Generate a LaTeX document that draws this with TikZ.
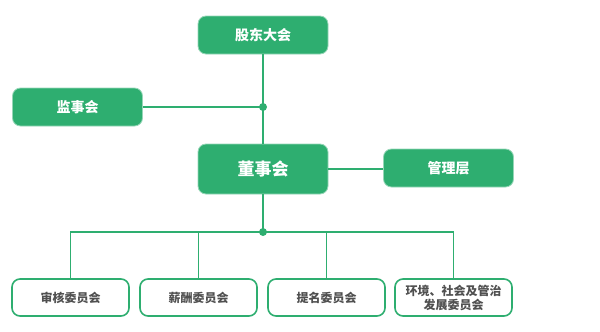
\documentclass[tikz,border=0pt]{standalone}
\usepackage{fontspec}
\setmainfont{Noto Sans CJK SC}
\usetikzlibrary{calc}
\definecolor{govgreen}{RGB}{46,174,112}
\definecolor{govgray}{RGB}{80,80,80}

\begin{document}
\begin{tikzpicture}[x=1pt, y=-1pt,
    topbox/.style={fill=govgreen, draw=govgreen!50!white, line width=0.8pt, rounded corners=8pt,
        text=white, font=\bfseries\fontsize{14}{16}\selectfont,
        minimum width=130pt, minimum height=38pt, inner sep=0pt},
    combox/.style={fill=white, draw=govgreen, line width=1.6pt, rounded corners=8pt,
        text=govgray, font=\bfseries\fontsize{12}{14}\selectfont, align=center,
        minimum width=117pt, minimum height=37pt, inner sep=0pt},
    link/.style={draw=govgreen, line width=1.6pt}]
    \useasboundingbox (0,0) rectangle (600,332);

    \node[topbox] (gudong) at (263,35) {股东大会};
    \node[topbox] (jianshi) at (77.5,107) {监事会};
    \node[topbox, minimum height=50pt, font=\bfseries\fontsize{17}{19}\selectfont] (dongshi) at (263,169) {董事会};
    \node[topbox] (guanli) at (448.5,168) {管理层};
    \coordinate (jA) at (263,107);
    \coordinate (jB) at (263,232);

    \node[combox] (shenhe) at (70.5,297.5) {审核委员会};
    \node[combox] (xinchou) at (198.5,297.5) {薪酬委员会};
    \node[combox] (timing) at (326.5,297.5) {提名委员会};
    \node[combox] (esg) at (453.5,297.5) {环境、社会及管治\\发展委员会};

    % lines
    \path[link] (gudong) -- (dongshi);
    \path[link] (jianshi) -- (jA);
    \path[link] (dongshi.east) -- (dongshi.east -| guanli.west);
    \path[link] (dongshi) -- (jB);
    \path[link] (shenhe.north) |- (jB) -| (esg.north);
    \path[link] (xinchou.north) -- (xinchou.north |- jB);
    \path[link] (timing.north) -- (timing.north |- jB);
    \fill[govgreen] (jA) circle (4);
    \fill[govgreen] (jB) circle (4);
\end{tikzpicture}
\end{document}
